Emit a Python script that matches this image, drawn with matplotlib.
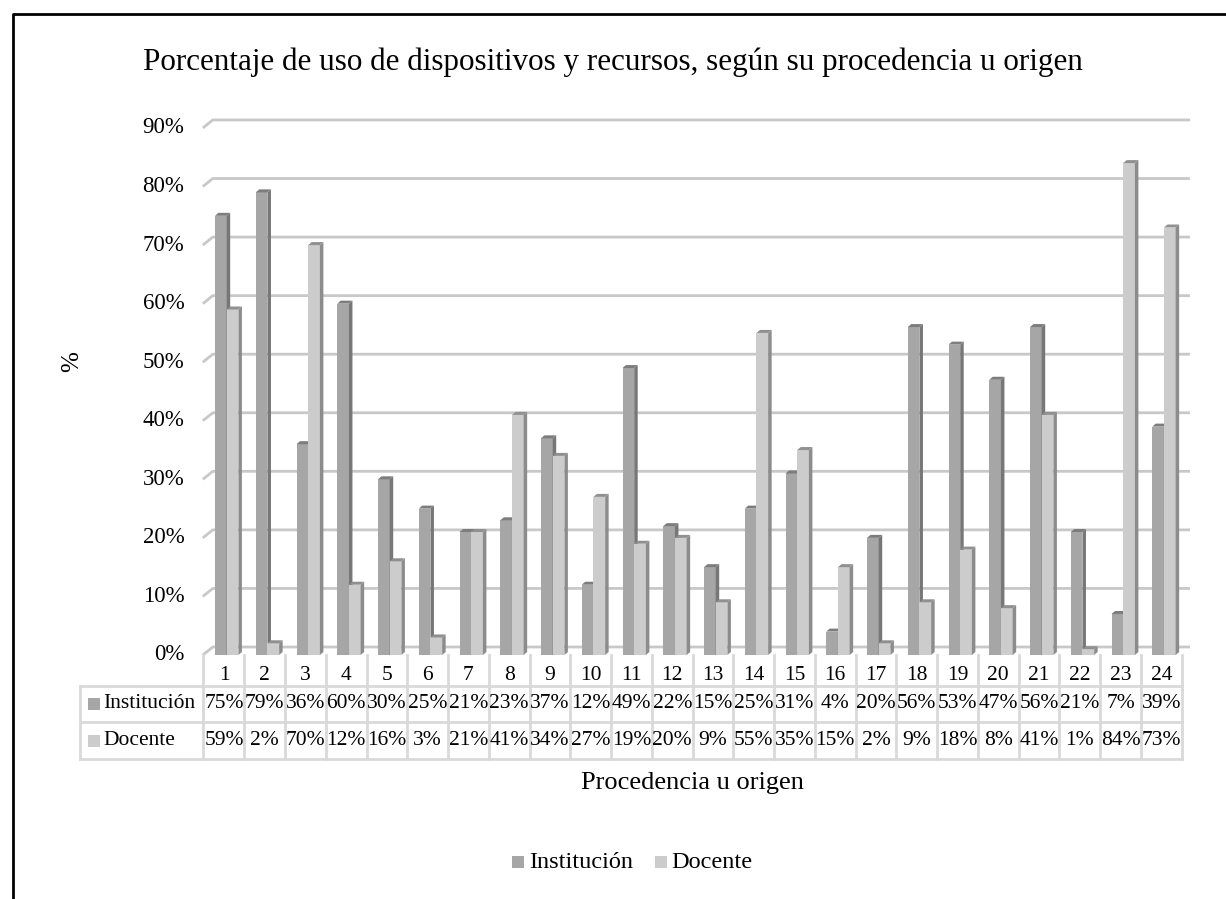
import numpy as np
import matplotlib
matplotlib.use('Agg')
import matplotlib.pyplot as plt
from matplotlib.patches import Polygon, Rectangle
from matplotlib.lines import Line2D

plt.rcParams['font.family'] = ['Liberation Serif', 'DejaVu Serif']

# datos
categorias = [str(i) for i in range(1, 25)]
institucion = [75, 79, 36, 60, 30, 25, 21, 23, 37, 12, 49, 22, 15, 25, 31, 4, 20, 56, 53, 47, 56, 21, 7, 39]
docente = [59, 2, 70, 12, 16, 3, 21, 41, 34, 27, 19, 20, 9, 55, 35, 15, 2, 9, 18, 8, 41, 1, 84, 73]
series = ['Institución', 'Docente']
ticks = list(range(0, 100, 10))

# colores
c_front = ['#a6a6a6', '#cccccc']
c_side = ['#777777', '#8c8c8c']
c_top = ['#7d7d7d', '#909090']
c_grid = '#c8c8c8'
c_tab = '#d9d9d9'

W, H = 1226, 899
fig = plt.figure(figsize=(W / 100, H / 100), dpi=100)

# ejes en pixeles
px_cat = 40.75
px_pct = 5.856
cx0 = 224      # centro de la categoria 1
y0 = 655       # 0% frente
ax_l, ax_r, ax_t, ax_b = 185, 1195, 105, 660
ax = fig.add_axes([ax_l / W, 1 - ax_b / H, (ax_r - ax_l) / W, (ax_b - ax_t) / H])
ax.set_xlim((ax_l - cx0) / px_cat, (ax_r - cx0) / px_cat)
ax.set_ylim((y0 - ax_b) / px_pct, (y0 - ax_t) / px_pct)
ax.axis('off')

# profundidad
gdx, gdy = 10 / px_cat, 8 / px_pct
bdx, bdy = 3.5 / px_cat, 3 / px_pct
bw = 11.7 / px_cat
offs = [-9 / px_cat, -9 / px_cat + bw]
x_end = (1190 - cx0) / px_cat

# cuadricula
for t in ticks:
    ax.plot([-0.52, -0.52 + gdx, x_end], [t, t + gdy, t + gdy], color=c_grid, lw=2, zorder=1,
            solid_capstyle='butt')
    ax.text(-0.52 - 0.45, t, f'{t}%', ha='right', va='center', fontsize=16.5)

# barras
x = np.arange(len(categorias))
for s, vals in enumerate([institucion, docente]):
    for i, v in enumerate(vals):
        xl = x[i] + offs[s]
        xr = xl + bw
        z = 2 + s
        ax.add_patch(Rectangle((xl, 0), bw, v, facecolor=c_front[s], edgecolor='none', zorder=z))
        ax.add_patch(Polygon([(xr, 0), (xr + bdx, bdy), (xr + bdx, v + bdy), (xr, v)],
                             facecolor=c_side[s], edgecolor='none', zorder=z))
        ax.add_patch(Polygon([(xl, v), (xl + bdx, v + bdy), (xr + bdx, v + bdy), (xr, v)],
                             facecolor=c_top[s], edgecolor='none', zorder=z))

# tabla de datos
def fx(px):
    return px / W

def fy(py):
    return 1 - py / H

tab_l, tab_c = 80, 203
rows = [686, 722, 759]
col_edges = [cx0 + (i - 0.5) * px_cat for i in range(len(categorias) + 1)]
col_edges[0] = tab_c
for e in col_edges:
    fig.add_artist(Line2D([fx(e), fx(e)], [fy(655), fy(rows[-1])], color=c_tab, lw=2))
for r in rows:
    fig.add_artist(Line2D([fx(tab_l), fx(col_edges[-1])], [fy(r), fy(r)], color=c_tab, lw=2))
fig.add_artist(Line2D([fx(tab_l), fx(tab_l)], [fy(rows[0]), fy(rows[-1])], color=c_tab, lw=2))

for i, c in enumerate(categorias):
    fig.text(fx(cx0 + i * px_cat), fy(675), c, ha='center', va='center', fontsize=15.5)
for s, vals in enumerate([institucion, docente]):
    yc = (rows[s] + rows[s + 1]) / 2
    fig.patches.append(Rectangle((fx(88), fy(yc + 6)), 12 / W, 12 / H, facecolor=c_front[s],
                                 edgecolor='none', transform=fig.transFigure, figure=fig))
    fig.text(fx(103), fy(yc), series[s], ha='left', va='center', fontsize=15.5)
    for i, v in enumerate(vals):
        fig.text(fx(cx0 + i * px_cat), fy(yc), f'{v}%', ha='center', va='center', fontsize=15.5)

# textos
fig.text(fx(613), fy(62), 'Porcentaje de uso de dispositivos y recursos, según su procedencia u origen',
         ha='center', va='center', fontsize=22.4)
fig.text(fx(72), fy(362), '%', ha='center', va='center', rotation=90, fontsize=18)
fig.text(fx(692), fy(783), 'Procedencia u origen', ha='center', va='center', fontsize=19)

# leyenda
leg = [(512, 529, 'Institución'), (655, 671, 'Docente')]
for s, (sq, tx, nm) in enumerate(leg):
    fig.patches.append(Rectangle((fx(sq), fy(868)), 12 / W, 12 / H, facecolor=c_front[s],
                                 edgecolor='none', transform=fig.transFigure, figure=fig))
    fig.text(fx(tx), fy(862), nm, ha='left', va='center', fontsize=17.5)

# marco
fig.add_artist(Line2D([fx(12.5), fx(12.5), fx(1226)], [0, fy(13.5), fy(13.5)], color='black', lw=2))

fig.savefig('out.png', dpi=100)
